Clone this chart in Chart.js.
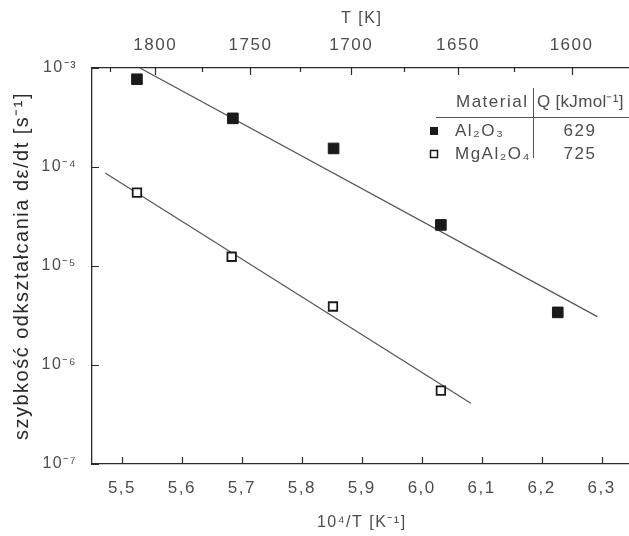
<!DOCTYPE html>
<html>
<head>
<meta charset="utf-8">
<script src="https://cdn.jsdelivr.net/npm/chart.js@4.4.1/dist/chart.umd.min.js"></script>
<style>
  html, body { margin: 0; padding: 0; background: #fff; overflow: hidden; }
  canvas { display: block; }
</style>
</head>
<body>
<canvas id="grafico" width="640" height="536"></canvas>
<script>
// dane (x = 10^4/T, y = szybkość odkształcania)
const al2o3X = [5.525, 5.685, 5.853, 6.032, 6.227];
const al2o3Y = [7.7e-4, 3.1e-4, 1.54e-4, 2.6e-5, 3.4e-6];
const mgal2o4X = [5.525, 5.683, 5.852, 6.032];
const mgal2o4Y = [5.5e-5, 1.24e-5, 3.9e-6, 5.5e-7];

// linie dopasowania (końce odcinków)
const al2o3FitX = [5.530, 6.293];
const al2o3FitY = [1e-3, 3.08e-6];
const mgal2o4FitX = [5.472, 6.082];
const mgal2o4FitY = [8.7e-5, 4.1e-7];

// opisy osi
const xTicks = [5.5, 5.6, 5.7, 5.8, 5.9, 6.0, 6.1, 6.2, 6.3];
const yTicks = [1e-7, 1e-6, 1e-5, 1e-4, 1e-3];
const yTickLabels = ['10⁻⁷', '10⁻⁶', '10⁻⁵', '10⁻⁴', '10⁻³'];
const tempTicks = [1800, 1750, 1700, 1650, 1600];
const tempMinorTicks = [1825, 1775, 1725, 1675, 1625];

// tabelka
const materialy = ['Al₂O₃', 'MgAl₂O₄'];
const energiaQ = [629, 725];

const KOLOR_TEKSTU = '#4d4d4d';
const KOLOR_OSI = '#2a2a2a';
const FONT = 'Liberation Sans, Arial, sans-serif';

function punkty(xs, ys) {
    return xs.map((x, i) => ({ x: x, y: ys[i] }));
}

// szerszy tekst, jak na oryginale
const rozstrzelenie = {
    id: 'rozstrzelenie',
    beforeDraw(chart) {
        chart.ctx.letterSpacing = '1.5px';
    }
};

// ticki skierowane do środka wykresu
const tickiWewnetrzne = {
    id: 'tickiWewnetrzne',
    afterDraw(chart) {
        const ctx = chart.ctx;
        const area = chart.chartArea;
        const sx = chart.scales.x;
        const sy = chart.scales.y;
        ctx.save();
        ctx.strokeStyle = KOLOR_OSI;
        ctx.lineWidth = 1.2;
        ctx.beginPath();
        xTicks.forEach(v => {
            const px = Math.round(sx.getPixelForValue(v)) + 0.5;
            ctx.moveTo(px, area.bottom);
            ctx.lineTo(px, area.bottom - 7);
        });
        tempTicks.forEach(t => {
            const px = Math.round(sx.getPixelForValue(1e4 / t)) + 0.5;
            ctx.moveTo(px, area.top);
            ctx.lineTo(px, area.top + 7);
        });
        tempMinorTicks.forEach(t => {
            const px = Math.round(sx.getPixelForValue(1e4 / t)) + 0.5;
            ctx.moveTo(px, area.top);
            ctx.lineTo(px, area.top + 4);
        });
        yTicks.forEach(v => {
            const py = Math.round(sy.getPixelForValue(v)) + 0.5;
            ctx.moveTo(area.left, py);
            ctx.lineTo(area.left + 7, py);
        });
        ctx.stroke();
        ctx.restore();
    }
};

// tabelka materiał / Q
const tabelka = {
    id: 'tabelka',
    afterDraw(chart) {
        const ctx = chart.ctx;
        ctx.save();
        ctx.letterSpacing = '1.5px';
        ctx.fillStyle = KOLOR_TEKSTU;
        ctx.textBaseline = 'middle';
        ctx.font = '17px ' + FONT;
        ctx.textAlign = 'left';
        ctx.fillText('Material', 456, 102);
        ctx.letterSpacing = '0.3px';
        ctx.fillText('Q [kJmol⁻¹]', 537, 102);
        ctx.letterSpacing = '1.5px';

        ctx.strokeStyle = '#555';
        ctx.lineWidth = 1;
        ctx.beginPath();
        ctx.moveTo(533.5, 88);
        ctx.lineTo(533.5, 158);
        ctx.moveTo(436, 117.5);
        ctx.lineTo(629, 117.5);
        ctx.stroke();

        const wiersze = [131, 154];
        materialy.forEach((m, i) => {
            const y = wiersze[i];
            ctx.fillStyle = KOLOR_TEKSTU;
            ctx.textAlign = 'left';
            ctx.fillText(m, 455, y);
            ctx.textAlign = 'center';
            ctx.fillText(String(energiaQ[i]), 580, y);
            if (i === 0) {
                ctx.fillStyle = '#1a1a1a';
                ctx.fillRect(430, y - 4, 8, 8);
            } else {
                ctx.strokeStyle = '#1a1a1a';
                ctx.lineWidth = 1.5;
                ctx.strokeRect(430.5, y - 3.5, 7, 7);
            }
        });
        ctx.restore();
    }
};

const ctx = document.getElementById('grafico').getContext('2d');
new Chart(ctx, {
    type: 'scatter',
    data: {
        datasets: [
            {
                label: 'Al₂O₃',
                data: punkty(al2o3X, al2o3Y),
                pointStyle: 'rect',
                pointRadius: 7.5,
                backgroundColor: '#1a1a1a',
                borderColor: '#1a1a1a',
                borderWidth: 1
            },
            {
                label: 'MgAl₂O₄',
                data: punkty(mgal2o4X, mgal2o4Y),
                pointStyle: 'rect',
                pointRadius: 6,
                backgroundColor: '#ffffff',
                borderColor: '#1a1a1a',
                borderWidth: 1.8
            },
            {
                type: 'line',
                label: 'fit Al₂O₃',
                data: punkty(al2o3FitX, al2o3FitY),
                borderColor: '#555',
                borderWidth: 1.2,
                pointRadius: 0,
                fill: false
            },
            {
                type: 'line',
                label: 'fit MgAl₂O₄',
                data: punkty(mgal2o4FitX, mgal2o4FitY),
                borderColor: '#555',
                borderWidth: 1.2,
                pointRadius: 0,
                fill: false
            }
        ]
    },
    options: {
        responsive: false,
        animation: false,
        layout: { padding: { left: 0, right: 6, top: 0, bottom: 0 } },
        plugins: {
            legend: { display: false },
            tooltip: { enabled: false }
        },
        scales: {
            x: {
                type: 'linear',
                position: 'bottom',
                min: 5.45,
                max: 6.35,
                afterBuildTicks: s => { s.ticks = xTicks.map(v => ({ value: v })); },
                afterFit: s => { s.height = 72; },
                grid: { display: false, drawTicks: false },
                border: { display: true, color: KOLOR_OSI, width: 1.3 },
                ticks: {
                    color: KOLOR_TEKSTU,
                    font: { family: FONT, size: 17 },
                    padding: 14,
                    maxRotation: 0,
                    callback: v => v.toFixed(1).replace('.', ',')
                },
                title: {
                    display: true,
                    text: '10⁴/T [K⁻¹]',
                    color: KOLOR_TEKSTU,
                    font: { family: FONT, size: 16 },
                    padding: { top: 0, bottom: 4 }
                }
            },
            x2: {
                type: 'linear',
                position: 'top',
                min: 5.45,
                max: 6.35,
                afterBuildTicks: s => { s.ticks = tempTicks.map(t => ({ value: 1e4 / t })); },
                afterFit: s => { s.height = 68; },
                grid: { display: false, drawTicks: false },
                border: { display: true, color: KOLOR_OSI, width: 1.3 },
                ticks: {
                    color: KOLOR_TEKSTU,
                    font: { family: FONT, size: 17 },
                    padding: 12,
                    maxRotation: 0,
                    callback: v => String(Math.round(1e4 / v))
                },
                title: {
                    display: true,
                    text: 'T [K]',
                    color: KOLOR_TEKSTU,
                    font: { family: FONT, size: 16 },
                    padding: { top: 9, bottom: 0 }
                }
            },
            y: {
                type: 'logarithmic',
                position: 'left',
                min: 1e-7,
                max: 1e-3,
                afterBuildTicks: s => { s.ticks = yTicks.map(v => ({ value: v })); },
                afterFit: s => { s.width = 92; },
                grid: { display: false, drawTicks: false },
                border: { display: true, color: KOLOR_OSI, width: 1.3 },
                ticks: {
                    color: KOLOR_TEKSTU,
                    font: { family: FONT, size: 16 },
                    padding: 15,
                    callback: v => yTickLabels[yTicks.findIndex(t => Math.abs(Math.log10(t) - Math.log10(v)) < 1e-6)]
                },
                title: {
                    display: true,
                    text: 'szybkość odkształcania dε/dt [s⁻¹]',
                    color: '#2a2a2a',
                    font: { family: FONT, size: 20 },
                    padding: { top: 10, bottom: 0 }
                }
            }
        }
    },
    plugins: [rozstrzelenie, tickiWewnetrzne, tabelka]
});
</script>
</body>
</html>
